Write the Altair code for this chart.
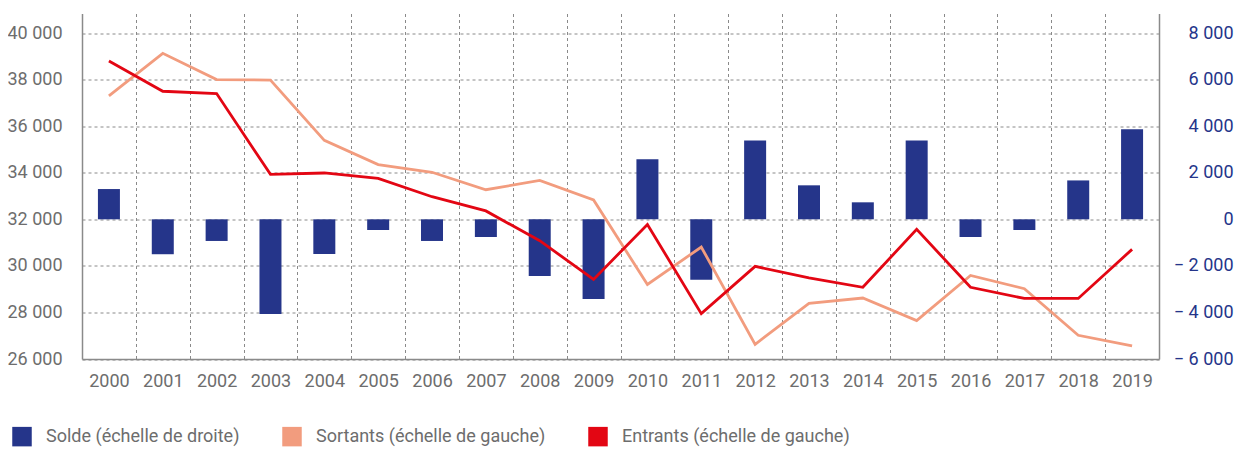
import altair as alt
import pandas as pd

years = [str(y) for y in range(2000, 2020)]
solde = [1300, -1500, -930, -4070, -1490, -460, -930, -760, -2430, -3420,
         2580, -2600, 3390, 1460, 730, 3390, -760, -460, 1670, 3870]
sortants = [37300, 39130, 38000, 37980, 35390, 34350, 34020, 33270, 33670, 32830,
            29200, 30810, 26630, 28390, 28620, 27650, 29590, 29020, 27020, 26560]
entrants = [38800, 37500, 37400, 33930, 33990, 33760, 32970, 32360, 31080, 29420,
            31780, 27950, 29980, 29480, 29080, 31570, 29080, 28600, 28600, 30710]
series_names = ["Solde (échelle de droite)", "Sortants (échelle de gauche)", "Entrants (échelle de gauche)"]
colors = ["#25358a", "#f29c7e", "#e30613"]
left_ticks = list(range(26000, 40001, 2000))
right_ticks = list(range(-6000, 8001, 2000))

FONT = "Roboto"
FS = 18
GRAY = "#6d6d6d"
GRID = "#8a8a8a"

df_bar = pd.DataFrame({"annee": years, "valeur": solde, "serie": series_names[0]})
df_line = pd.concat([
    pd.DataFrame({"annee": years, "valeur": sortants, "serie": series_names[1]}),
    pd.DataFrame({"annee": years, "valeur": entrants, "serie": series_names[2]}),
])

x_enc = alt.X("annee:O", sort=years,
              scale=alt.Scale(paddingInner=0, paddingOuter=0),
              axis=alt.Axis(title=None, labelAngle=0, ticks=False, tickBand="extent",
                            grid=True, gridDash=[3, 3], gridColor=GRID, gridWidth=1,
                            domainColor=GRID, domainWidth=1.5,
                            labelFont=FONT, labelFontSize=FS, labelColor=GRAY,
                            labelPadding=13))

color_scale = alt.Scale(domain=series_names, range=colors)

bars = alt.Chart(df_bar).mark_bar(size=22).encode(
    x=x_enc,
    y=alt.Y("valeur:Q",
            scale=alt.Scale(domain=[-6000, 8840], nice=False, zero=False),
            axis=alt.Axis(orient="right", title=None, values=right_ticks, grid=False,
                          ticks=False, labelAlign="right", labelPadding=74,
                          labelFont=FONT, labelFontSize=FS, labelColor="#25358a",
                          domainColor=GRID, domainWidth=1.5,
                          labelExpr="datum.value < 0 ? '\u2212 ' + replace(format(-datum.value, ','), ',', ' ') : replace(format(datum.value, ','), ',', ' ')")),
    color=alt.Color("serie:N", scale=color_scale,
                    legend=alt.Legend(title=None, orient="none", legendX=-70, legendY=413,
                                      direction="horizontal", symbolType="square",
                                      symbolSize=380, symbolStrokeWidth=0,
                                      labelFont=FONT, labelFontSize=FS, labelColor=GRAY,
                                      labelLimit=400, columnPadding=42, labelOffset=14)),
)

lines = alt.Chart(df_line).mark_line(strokeWidth=2.8).encode(
    x=x_enc,
    y=alt.Y("valeur:Q",
            scale=alt.Scale(domain=[26000, 40840], nice=False, zero=False),
            axis=alt.Axis(orient="left", title=None, values=left_ticks, grid=True,
                          gridDash=[3, 3], gridColor=GRID, gridWidth=1,
                          ticks=False, labelPadding=20,
                          labelFont=FONT, labelFontSize=FS, labelColor=GRAY,
                          domainColor=GRID, domainWidth=1.5,
                          labelExpr="replace(format(datum.value, ','), ',', ' ')")),
    color=alt.Color("serie:N", scale=color_scale, legend=None),
    detail="serie:N",
)

chart = alt.layer(bars, lines).resolve_scale(y="independent").properties(
    width=1077, height=345.5,
    autosize=alt.AutoSizeParams(type="none"),
    padding={"left": 74, "top": 5.5, "right": 75, "bottom": 90},
).configure_view(stroke=None)

chart.save("out.html", embed_options={"renderer": "svg", "actions": False})
